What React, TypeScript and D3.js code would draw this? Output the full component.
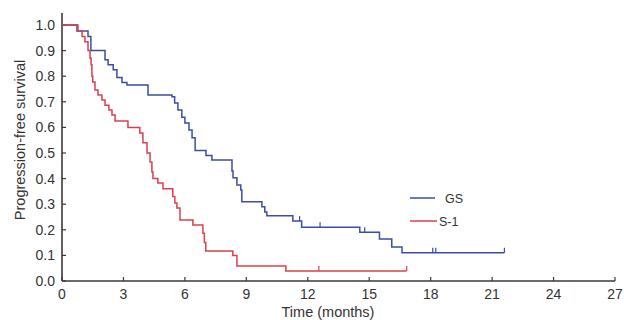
import * as d3 from 'd3';

// Kaplan-Meier steps (time in months, survival after the event)
const gsTimes = [0.73, 1.27, 1.41, 2.1, 2.25, 2.5, 2.68, 2.93, 3.17, 4.2, 5.37, 5.5, 5.66, 5.85, 6.0, 6.2, 6.35, 6.5, 7.03, 7.32, 8.3, 8.35, 8.54, 8.73, 8.78, 9.76, 9.9, 10.0, 11.27, 11.7, 14.54, 15.5, 16.1, 16.6];
const gsSurv = [0.977, 0.955, 0.9, 0.864, 0.845, 0.825, 0.795, 0.775, 0.766, 0.727, 0.72, 0.695, 0.668, 0.64, 0.617, 0.59, 0.56, 0.51, 0.49, 0.473, 0.43, 0.403, 0.375, 0.355, 0.31, 0.29, 0.27, 0.255, 0.234, 0.21, 0.19, 0.164, 0.133, 0.11];
const gsCensor = [11.6, 12.6, 14.78, 18.1, 18.25, 21.6];

const s1Times = [0.78, 0.98, 1.12, 1.27, 1.37, 1.42, 1.46, 1.5, 1.61, 1.76, 1.95, 2.1, 2.29, 2.44, 2.59, 3.22, 3.8, 3.95, 4.15, 4.3, 4.39, 4.44, 4.68, 4.93, 5.41, 5.51, 5.61, 5.76, 6.39, 6.88, 6.95, 7.02, 8.34, 8.54, 10.93];
const s1Surv = [0.977, 0.955, 0.935, 0.9, 0.87, 0.845, 0.8, 0.777, 0.746, 0.727, 0.707, 0.687, 0.668, 0.648, 0.625, 0.6, 0.578, 0.54, 0.5, 0.465, 0.426, 0.4, 0.383, 0.36, 0.33, 0.305, 0.285, 0.238, 0.219, 0.187, 0.15, 0.117, 0.1, 0.059, 0.039];
const s1Censor = [12.54, 16.83];

const xTicks = [0, 3, 6, 9, 12, 15, 18, 21, 24, 27];
const yTicks = [0, 0.1, 0.2, 0.3, 0.4, 0.5, 0.6, 0.7, 0.8, 0.9, 1.0];

const BLUE = '#3b4ea6';
const RED = '#d8414c';
const AXIS = '#3a3a3a';
const FONT = '"Liberation Sans", Arial, sans-serif';
const NARROW = '"Liberation Sans Narrow", "Arial Narrow", "Liberation Sans", sans-serif';

type Pt = [number, number];

function buildSteps(times: number[], surv: number[], censor: number[]): Pt[] {
  const pts: Pt[] = [[0, 1]];
  times.forEach((t, i) => pts.push([t, surv[i]]));
  const end = d3.max([...times, ...censor]) ?? 0;
  pts.push([end, surv[surv.length - 1]]);
  return pts;
}

function survAt(times: number[], surv: number[], t: number) {
  let s = 1;
  times.forEach((tt, i) => {
    if (tt <= t) s = surv[i];
  });
  return s;
}

export default function App() {
  const width = 624;
  const height = 320;
  const x = d3.scaleLinear().domain([0, 27]).range([62, 615]);
  const y = d3.scaleLinear().domain([0, 1]).range([281, 25]);

  const line = d3
    .line<Pt>()
    .x((d) => x(d[0]))
    .y((d) => y(d[1]))
    .curve(d3.curveStepAfter);

  const series = [
    { name: 'GS', color: BLUE, times: gsTimes, surv: gsSurv, censor: gsCensor },
    { name: 'S-1', color: RED, times: s1Times, surv: s1Surv, censor: s1Censor },
  ];

  return (
    <svg
      width={width}
      height={height}
      style={{ position: 'absolute', left: 0, top: 0, background: '#fff' }}
      fontFamily={FONT}
    >
      {/* axes */}
      <line x1={x(0)} x2={x(27)} y1={y(0)} y2={y(0)} stroke={AXIS} strokeWidth={1.6} />
      <line x1={x(0)} x2={x(0)} y1={y(0)} y2={13} stroke={AXIS} strokeWidth={1.6} />
      {xTicks.map((t) => (
        <g key={'x' + t}>
          <line x1={x(t)} x2={x(t)} y1={y(0)} y2={y(0) - 4} stroke={AXIS} strokeWidth={1.2} />
          <text x={x(t)} y={299} textAnchor="middle" fontSize={14} fontFamily={NARROW} fill="#333">
            {t}
          </text>
        </g>
      ))}
      {yTicks.map((t) => (
        <g key={'y' + t}>
          <line x1={x(0)} x2={x(0) + 4} y1={y(t)} y2={y(t)} stroke={AXIS} strokeWidth={1.2} />
          <text x={55} y={y(t) + 5} textAnchor="end" fontSize={14} fontFamily={NARROW} fill="#333">
            {t.toFixed(1)}
          </text>
        </g>
      ))}
      <text x={328} y={317} textAnchor="middle" fontSize={14.5} fill="#333">
        Time (months)
      </text>
      <text
        transform={`translate(25,140) rotate(-90)`}
        textAnchor="middle"
        fontSize={14.5}
        fill="#333"
      >
        Progression-free survival
      </text>

      {/* curves */}
      {series.map((s) => (
        <g key={s.name}>
          <path
            d={line(buildSteps(s.times, s.surv, s.censor)) ?? ''}
            fill="none"
            stroke={s.color}
            strokeWidth={1.5}
          />
          {s.censor.map((c, i) => {
            const sv = survAt(s.times, s.surv, c);
            return (
              <line
                key={i}
                x1={x(c)}
                x2={x(c)}
                y1={y(sv)}
                y2={y(sv) - 5}
                stroke={s.color}
                strokeWidth={1.2}
              />
            );
          })}
        </g>
      ))}

      {/* legend */}
      <line x1={410} x2={435} y1={198} y2={198} stroke={BLUE} strokeWidth={1.5} />
      <text x={445} y={202.5} fontSize={12.5} fill="#333">
        GS
      </text>
      <line x1={410} x2={437} y1={221} y2={221} stroke={RED} strokeWidth={1.5} />
      <text x={439} y={225.5} fontSize={12.5} fill="#333">
        S-1
      </text>
    </svg>
  );
}
